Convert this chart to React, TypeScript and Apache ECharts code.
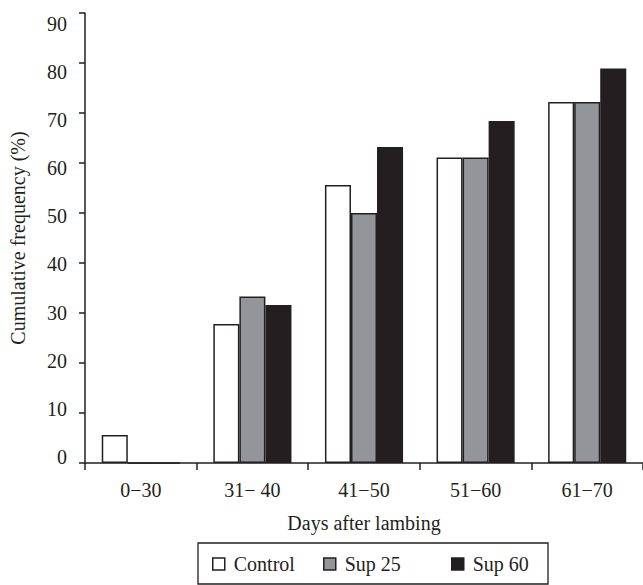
import React, { useEffect, useRef } from "react";
import * as echarts from "echarts";

const categories = ["0\u221230", "31\u2212 40", "41\u221250", "51\u221260", "61\u221270"];
const controlValues = [5.6, 27.8, 55.6, 61.1, 72.2];
const sup25Values = [0, 33.3, 50.0, 61.1, 72.2];
const sup60Values = [0, 31.6, 63.2, 68.4, 78.9];
const yTickValues = [0, 10, 20, 30, 40, 50, 60, 70, 80, 90];
const seriesNames = ["Control", "Sup 25", "Sup 60"];

const INK = "#231f20";
const GRAY = "#939598";
const FONT = '"Liberation Serif", "Times New Roman", serif';

export default function App() {
  const ref = useRef<HTMLDivElement>(null);
  useEffect(() => {
    if (!ref.current) return;
    const chart = echarts.init(ref.current, undefined, { renderer: "svg" });
    const barStyle = (color: string) => ({
      color,
      borderColor: INK,
      borderWidth: 1.5,
    });
    const legendBase = {
      orient: "horizontal",
      top: 554,
      padding: 0,
      itemWidth: 12,
      itemHeight: 12,
      icon: "rect",
      selectedMode: false,
      itemStyle: { borderColor: INK, borderWidth: 1.5 },
      textStyle: {
        fontFamily: FONT,
        fontSize: 20,
        color: INK,
        lineHeight: 20,
        padding: [0, 0, 0, 4],
      },
    };
    chart.setOption({
      animation: false,
      backgroundColor: "#ffffff",
      textStyle: { fontFamily: FONT, color: INK },
      grid: { left: 85, top: 13, width: 562, bottom: 122, containLabel: false },
      xAxis: {
        type: "category",
        data: categories,
        name: "Days after lambing",
        nameLocation: "middle",
        nameGap: 50,
        nameTextStyle: { fontFamily: FONT, fontSize: 20, color: INK },
        axisLine: { lineStyle: { color: INK, width: 1.5 } },
        axisTick: { show: true, alignWithLabel: false, interval: 0, length: 7, lineStyle: { color: INK, width: 1.5 } },
        axisLabel: { fontFamily: FONT, fontSize: 20, color: INK, margin: 17, interval: 0 },
        splitLine: { show: false },
      },
      yAxis: [
        {
          type: "value",
          min: 0,
          max: 90,
          interval: 10,
          position: "left",
          axisLine: { show: true, lineStyle: { color: INK, width: 1.5 } },
          axisTick: { show: true, length: 6, lineStyle: { color: INK, width: 1.5 } },
          axisLabel: { show: false },
          splitLine: { show: false },
        },
        {
          type: "value",
          min: -1.244,
          max: 92.2,
          position: "left",
          offset: 0,
          name: "Cumulative frequency (%)",
          nameLocation: "middle",
          nameGap: 57,
          nameTextStyle: { fontFamily: FONT, fontSize: 20, color: INK },
          axisLine: { show: false },
          axisTick: { show: false },
          splitLine: { show: false },
          axisLabel: {
            show: true,
            customValues: yTickValues,
            fontFamily: FONT,
            fontSize: 20,
            color: INK,
            margin: 18,
          },
        },
      ],
      legend: [
        { ...legendBase, left: 212, data: [seriesNames[0]] },
        { ...legendBase, left: 323, data: [seriesNames[1]] },
        { ...legendBase, left: 451, data: [seriesNames[2]] },
      ],
      graphic: [
        {
          type: "rect",
          shape: { x: 198, y: 543, width: 350, height: 41 },
          style: { fill: "none", stroke: INK, lineWidth: 1.3 },
          silent: true,
        },
      ],
      series: [
        {
          name: seriesNames[0],
          type: "bar",
          yAxisIndex: 0,
          data: controlValues,
          barGap: "0%",
          barCategoryGap: "30%",
          itemStyle: barStyle("#ffffff"),
        },
        {
          name: seriesNames[1],
          type: "bar",
          yAxisIndex: 0,
          data: sup25Values,
          barGap: "0%",
          barCategoryGap: "30%",
          itemStyle: barStyle(GRAY),
        },
        {
          name: seriesNames[2],
          type: "bar",
          yAxisIndex: 0,
          data: sup60Values,
          barGap: "0%",
          barCategoryGap: "30%",
          itemStyle: barStyle(INK),
        },
      ],
    });
    return () => chart.dispose();
  }, []);
  return (
    <div
      ref={ref}
      style={{ position: "fixed", left: 0, top: 0, width: 643, height: 585, background: "#fff" }}
    />
  );
}
